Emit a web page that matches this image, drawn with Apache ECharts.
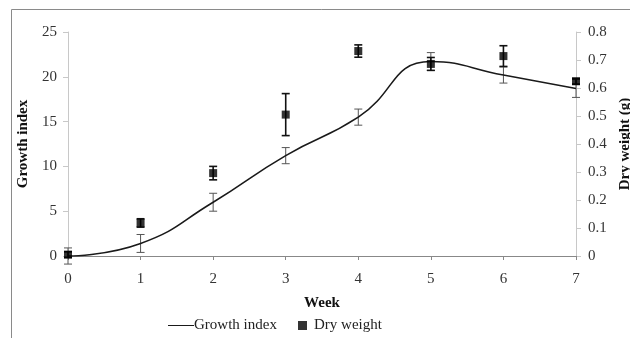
<!DOCTYPE html>
<html><head><meta charset="utf-8">
<script src="https://cdn.jsdelivr.net/npm/echarts@6/dist/echarts.min.js"></script>
<style>html,body{margin:0;padding:0;background:#fff}#c{width:630px;height:338px}</style>
</head><body><div id="c"></div>
<script>
var weeks = [0, 1, 2, 3, 4, 5, 6, 7];
var growthIndex = [0, 1.4, 6.0, 11.2, 15.5, 21.7, 20.2, 18.7];
var growthErr = [0.9, 1.0, 1.0, 0.9, 0.9, 1.0, 0.9, 1.0];
var dryWeight = [0.005, 0.118, 0.296, 0.505, 0.732, 0.686, 0.714, 0.624];
var dryErr = [0.01, 0.015, 0.024, 0.075, 0.022, 0.023, 0.037, 0.01];

var FONT = '"Liberation Serif", "Times New Roman", serif';
function errData(vals, errs) {
  return weeks.map(function (w, i) { return [w, vals[i] - errs[i], vals[i] + errs[i]]; });
}
function errRender(color, lw) {
  return function (params, api) {
    var x = api.value(0);
    var lo = api.coord([x, api.value(1)]);
    var hi = api.coord([x, api.value(2)]);
    var cw = 4;
    return {
      type: 'group',
      children: [
        { type: 'line', shape: { x1: lo[0], y1: lo[1], x2: hi[0], y2: hi[1] }, style: { stroke: color, lineWidth: lw } },
        { type: 'line', shape: { x1: lo[0] - cw, y1: lo[1], x2: lo[0] + cw, y2: lo[1] }, style: { stroke: color, lineWidth: lw } },
        { type: 'line', shape: { x1: hi[0] - cw, y1: hi[1], x2: hi[0] + cw, y2: hi[1] }, style: { stroke: color, lineWidth: lw } }
      ]
    };
  };
}
var chart = echarts.init(document.getElementById('c'));
chart.setOption({
  animation: false,
  textStyle: { fontFamily: FONT },
  grid: { left: 68, right: 54, top: 32, bottom: 82, containLabel: false, outerBoundsMode: 'none' },
  graphic: [
    { type: 'line', shape: { x1: 11.5, y1: 9.5, x2: 640, y2: 9.5 }, style: { stroke: '#8a8a8a', lineWidth: 1 } },
    { type: 'line', shape: { x1: 11.5, y1: 9.5, x2: 11.5, y2: 340 }, style: { stroke: '#8a8a8a', lineWidth: 1 } }
  ],
  legend: [
    { left: 163, top: 313, itemWidth: 26, itemHeight: 10, itemGap: 0,
      textStyle: { fontFamily: FONT, fontSize: 15, color: '#222', padding: [0, 0, 0, -5] },
      data: [{ name: 'Growth index', icon: 'path://M0,4.5H26V5.5H0Z' }] },
    { left: 293, top: 313, itemWidth: 9, itemHeight: 9,
      textStyle: { fontFamily: FONT, fontSize: 15, color: '#222', padding: [0, 0, 0, 2] },
      data: [{ name: 'Dry weight', icon: 'rect' }] }
  ],
  xAxis: {
    type: 'value', min: 0, max: 7, interval: 1,
    name: 'Week', nameLocation: 'middle', nameGap: 40,
    nameTextStyle: { fontFamily: FONT, fontSize: 15, fontWeight: 'bold', color: '#111' },
    axisLine: { lineStyle: { color: '#888' } },
    axisTick: { show: true, length: 4, lineStyle: { color: '#888' } },
    axisLabel: { fontFamily: FONT, fontSize: 15, color: '#333', margin: 16 },
    splitLine: { show: false }
  },
  yAxis: [
    { type: 'value', min: 0, max: 25, interval: 5,
      name: 'Growth index', nameLocation: 'middle', nameGap: 32,
      nameTextStyle: { fontFamily: FONT, fontSize: 15, fontWeight: 'bold', color: '#111' },
      axisLine: { show: true, lineStyle: { color: '#c8c8c8' } },
      axisTick: { show: true, length: 5, lineStyle: { color: '#c8c8c8' } },
      axisLabel: { fontFamily: FONT, fontSize: 15, color: '#333', margin: 11 },
      splitLine: { show: false } },
    { type: 'value', min: 0, max: 0.8, interval: 0.1, position: 'right',
      name: 'Dry weight (g)', nameLocation: 'middle', nameGap: 37,
      nameTextStyle: { fontFamily: FONT, fontSize: 15, fontWeight: 'bold', color: '#111' },
      axisLine: { show: true, lineStyle: { color: '#c8c8c8' } },
      axisTick: { show: true, length: 5, lineStyle: { color: '#c8c8c8' } },
      axisLabel: { fontFamily: FONT, fontSize: 15, color: '#333', margin: 12 },
      splitLine: { show: false } }
  ],
  series: [
    { name: 'Growth index err', type: 'custom', yAxisIndex: 0, z: 2,
      renderItem: errRender('#555', 1), data: errData(growthIndex, growthErr) },
    { name: 'Growth index', type: 'line', yAxisIndex: 0, smooth: 0.5, symbol: 'none', z: 3,
      lineStyle: { color: '#1a1a1a', width: 1.6 }, itemStyle: { color: '#1a1a1a' },
      data: weeks.map(function (w, i) { return [w, growthIndex[i]]; }) },
    { name: 'Dry weight err', type: 'custom', yAxisIndex: 1, z: 4,
      renderItem: errRender('#111', 1.6), data: errData(dryWeight, dryErr) },
    { name: 'Dry weight', type: 'scatter', yAxisIndex: 1, symbol: 'rect', symbolSize: 8, z: 5,
      itemStyle: { color: '#000' },
      data: weeks.map(function (w, i) { return [w, dryWeight[i]]; }) }
  ]
});
</script></body></html>
